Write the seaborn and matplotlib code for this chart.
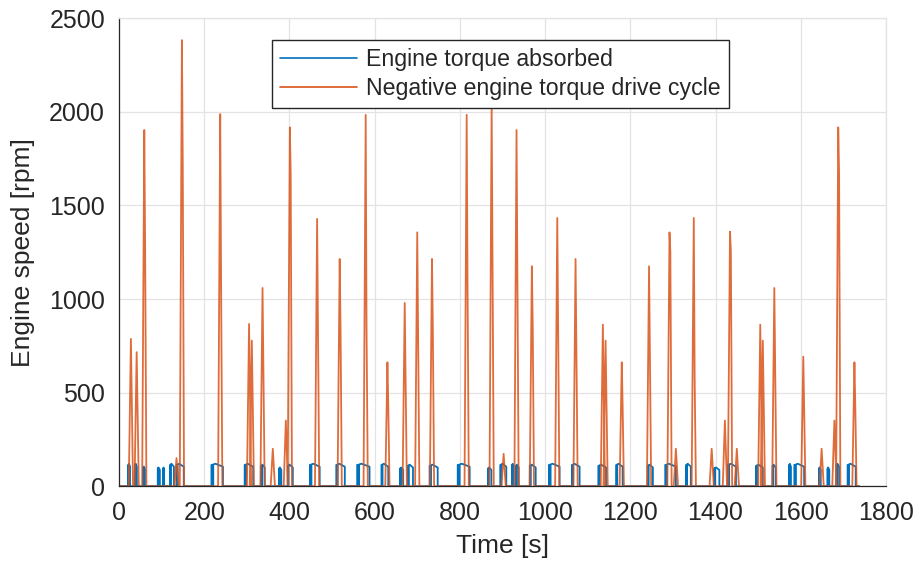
import numpy as np
import pandas as pd
import matplotlib
matplotlib.use("Agg")
import matplotlib.pyplot as plt
import seaborn as sns

# Negative engine torque drive cycle: speed spikes (time of peak [s], peak [rpm], shoulder on the way down [rpm])
spike_time = [28, 41.5, 59.4, 135, 147.7, 237.6, 305.3, 311.8, 336.9, 361, 391.6, 401,
              465, 518, 579, 630, 670.6, 700, 734.6, 816, 874.6, 902.7, 933, 969,
              1028.6, 1071.5, 1135.6, 1142, 1180, 1244, 1292, 1307, 1349, 1391, 1422, 1434,
              1450, 1505, 1511, 1538, 1606, 1649, 1679, 1688, 1726]
spike_peak = [787, 716, 1903, 150, 2383, 1988, 867, 778, 1059, 200, 351, 1917,
              1428, 1214, 1984, 662, 979, 1356, 1214, 1984, 2050, 173, 1903, 1175,
              1433, 1214, 863, 778, 662, 1175, 1356, 200, 1433, 200, 351, 1360,
              200, 863, 778, 1059, 692, 200, 351, 1917, 662]
spike_shoulder = [0, 0, 1269, 0, 1712, 1099, 0, 0, 0, 0, 0, 1668,
                  0, 836, 845, 431, 0, 0, 836, 1089, 0, 0, 0, 858,
                  0, 0, 0, 0, 431, 0, 1255, 0, 582, 0, 0, 1255,
                  0, 0, 0, 0, 0, 0, 0, 1668, 431]
cycle_end = 1737

# Engine torque absorbed: speed plateaus (start [s], end [s], level [rpm])
pulse_start = [22, 38, 57, 91, 104, 120, 135, 217, 295, 334, 376, 396, 448, 510, 559,
               616, 660, 678, 729, 795, 866, 895, 923, 932, 964, 1009, 1063, 1125, 1167,
               1241, 1282, 1331, 1397, 1429, 1495, 1534, 1573, 1585, 1643, 1663, 1684, 1710]
pulse_end = [26, 42, 61, 96, 106, 129, 152, 244, 315, 342, 381, 408, 471, 530, 588,
             632, 667, 690, 748, 823, 874, 909, 926, 938, 978, 1034, 1081, 1143, 1182,
             1253, 1307, 1342, 1409, 1448, 1511, 1541, 1577, 1608, 1647, 1667, 1690, 1729]
pulse_level = [120, 120, 105, 100, 100, 120, 120, 120, 120, 115, 100, 115, 120, 120, 120,
               120, 100, 115, 115, 120, 100, 120, 120, 115, 115, 120, 120, 115, 120,
               115, 120, 120, 100, 120, 115, 115, 120, 120, 100, 100, 120, 120]

# Trace vertices for the drive-cycle spikes
ot, ov = [0.0], [0.0]
for t, p, s in zip(spike_time, spike_peak, spike_shoulder):
    ot += [t - 5, t]
    ov += [0, p]
    if s:
        ot.append(t + 2)
        ov.append(s)
    ot.append(t + 5)
    ov.append(0)
ot.append(cycle_end)
ov.append(0)
orange = pd.DataFrame({"t": ot, "rpm": ov})

# Trace vertices for the absorbed-torque plateaus (switching edge at the start)
bt, bv = [0.0], [0.0]
for s, e, h in zip(pulse_start, pulse_end, pulse_level):
    w = e - s
    bt += [s, s, s + 0.08 * w, s + 0.08 * w, s + 0.16 * w, s + 0.16 * w,
           s + 0.35 * w, e, e]
    bv += [0, h * 0.95, h * 0.95, 0, 0, h * 0.97, h, h * 0.87, 0]
bt.append(cycle_end)
bv.append(0)
blue = pd.DataFrame({"t": bt, "rpm": bv})

sns.set_theme(style="whitegrid")
plt.rcParams["font.family"] = ["Liberation Sans", "DejaVu Sans"]

dark = "#262626"
fig = plt.figure(figsize=(9.18, 5.70), dpi=100)
ax = fig.add_axes([0.1296, 0.147, 0.8355, 0.821])

sns.lineplot(data=blue, x="t", y="rpm", sort=False, estimator=None, ax=ax,
             color="#0072BD", lw=1.3, label="Engine torque absorbed")
sns.lineplot(data=orange, x="t", y="rpm", sort=False, estimator=None, ax=ax,
             color="#D95319", lw=1.3, alpha=0.85,
             label="Negative engine torque drive cycle")

ax.set_xlim(0, 1800)
ax.set_ylim(0, 2500)
ax.set_xticks(np.arange(0, 1801, 200))
ax.set_yticks(np.arange(0, 2501, 500))
ax.set_xlabel("Time [s]", fontsize=19, color=dark, labelpad=6)
ax.set_ylabel("Engine speed [rpm]", fontsize=19, color=dark, labelpad=10)

ax.set_facecolor("white")
ax.grid(True, color="#e3e3e3", lw=0.9)
for side in ("left", "bottom"):
    ax.spines[side].set_color(dark)
    ax.spines[side].set_linewidth(0.9)
for side in ("top", "right"):
    ax.spines[side].set_color("#e3e3e3")
    ax.spines[side].set_linewidth(0.9)
ax.tick_params(axis="both", direction="in", length=5, width=0.9, color=dark,
               labelsize=18, labelcolor=dark)
ax.tick_params(axis="x", pad=11)
ax.tick_params(axis="y", pad=10)

leg = ax.legend(loc="upper left", bbox_to_anchor=(0.2, 0.953), fontsize=16.7,
                frameon=True, fancybox=False, framealpha=1, edgecolor=dark,
                handlelength=3.3, borderpad=0.35, labelspacing=0.25, handletextpad=0.4,
                borderaxespad=0)
leg.get_frame().set_linewidth(1.0)
for line in leg.get_lines():
    line.set_linewidth(1.2)
    line.set_alpha(1)

fig.savefig("out.png", dpi=100)
